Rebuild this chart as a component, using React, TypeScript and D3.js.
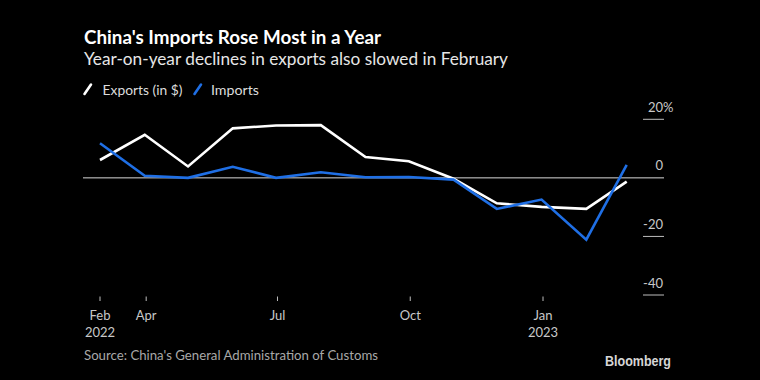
import React from "react";
import * as d3 from "d3";

// Data (monthly, YoY %)
const months = [
  "2022-02", "2022-03", "2022-04", "2022-05", "2022-06", "2022-07", "2022-08",
  "2022-09", "2022-10", "2022-11", "2022-12", "2023-01", "2023-02",
];
const exportsVals = [6.1, 14.7, 3.9, 16.9, 17.9, 18.0, 7.1, 5.7, -0.3, -8.7, -9.9, -10.6, -1.3];
const importsVals = [11.8, 0.7, 0.0, 3.8, 0.0, 1.9, 0.2, 0.3, -0.6, -10.6, -7.4, -21.1, 4.4];

const seriesNames = ["Exports (in $)", "Imports"];
const seriesColors = ["#ffffff", "#1f6fe5"];

const xTickDates = ["2022-02", "2022-04-01", "2022-07-01", "2022-10-01", "2023-01-01"];
const xTickLabels = [["Feb", "2022"], ["Apr"], ["Jul"], ["Oct"], ["Jan", "2023"]];

const yTicks = [20, 0, -20, -40];
const yTickLabels = ["20", "0", "-20", "-40"];

const title = "China's Imports Rose Most in a Year";
const subtitle = "Year-on-year declines in exports also slowed in February";
const source = "Source: China's General Administration of Customs";

const W = 760;
const H = 380;
const FONT = "Lato, 'Noto Sans', sans-serif";

// month-end position (data for a month plotted on its last day)
const parseMonth = d3.timeParse("%Y-%m");
const parseDay = d3.timeParse("%Y-%m-%d");
const monthEnd = (m: string) =>
  d3.timeDay.offset(d3.timeMonth.offset(parseMonth(m) as Date, 1), -1);

export default function App() {
  const dates = months.map(monthEnd);
  const x = d3
    .scaleTime()
    .domain([dates[0], dates[dates.length - 1]])
    .range([100, 626.7]);
  const y = d3.scaleLinear().domain([-40, 20]).range([295, 119.3]);

  const line = d3
    .line<number>()
    .x((_, i) => x(dates[i]))
    .y((v) => y(v))
    .curve(d3.curveLinear);

  const series = [exportsVals, importsVals];

  const tickX = xTickDates.map((s, i) =>
    i === 0 ? x(monthEnd(s)) : x(parseDay(s) as Date)
  );

  return (
    <svg
      width={W}
      height={H}
      style={{ position: "absolute", left: 0, top: 0, display: "block", background: "#000" }}
      fontFamily={FONT}
    >
      <rect x={0} y={0} width={W} height={H} fill="#000" />

      {/* Title */}
      <text x={84} y={43.5} fill="#fff" fontSize={19} fontWeight={700} textLength={297} lengthAdjust="spacingAndGlyphs">
        {title}
      </text>
      <text x={84} y={64.5} fill="#e6e6e6" fontSize={17.5} textLength={424} lengthAdjust="spacingAndGlyphs">
        {subtitle}
      </text>

      {/* Legend */}
      <line x1={84.5} y1={94} x2={91} y2={84.5} stroke={seriesColors[0]} strokeWidth={2.6} strokeLinecap="round" />
      <text x={102.5} y={95} fill="#dcdcdc" fontSize={14} textLength={80} lengthAdjust="spacingAndGlyphs">
        {seriesNames[0]}
      </text>
      <line x1={194.5} y1={94} x2={201} y2={84.5} stroke={seriesColors[1]} strokeWidth={2.6} strokeLinecap="round" />
      <text x={211} y={95} fill="#dcdcdc" fontSize={14} textLength={48} lengthAdjust="spacingAndGlyphs">
        {seriesNames[1]}
      </text>

      {/* Y axis */}
      {yTicks.map((t, i) => (
        <g key={t}>
          {t !== 0 && (
            <line x1={643} x2={664} y1={y(t)} y2={y(t)} stroke="#bdbdbd" strokeWidth={1} />
          )}
          <text x={663} y={y(t) - 7.5} fill="#c8c8c8" fontSize={13} textAnchor="end">
            {yTickLabels[i]}
          </text>
          {i === 0 && (
            <text x={663} y={y(t) - 7.5} fill="#c8c8c8" fontSize={13}>
              %
            </text>
          )}
        </g>
      ))}

      {/* zero line */}
      <line x1={83} x2={664} y1={y(0)} y2={y(0)} stroke="#d9d9d9" strokeWidth={1} />

      {/* X axis ticks */}
      {tickX.map((tx, i) => (
        <g key={i}>
          <line x1={tx} x2={tx} y1={296.5} y2={301} stroke="#bdbdbd" strokeWidth={1} />
          {xTickLabels[i].map((lab, j) => (
            <text key={j} x={tx} y={319.5 + j * 17} fill="#c8c8c8" fontSize={13} textAnchor="middle">
              {lab}
            </text>
          ))}
        </g>
      ))}

      {/* Lines */}
      {series.map((vals, si) => (
        <path
          key={si}
          d={line(vals) || ""}
          fill="none"
          stroke={seriesColors[si]}
          strokeWidth={2.6}
          strokeLinejoin="miter"
        />
      ))}

      {/* Footer */}
      <text x={84} y={359.5} fill="#a8a8a8" fontSize={13} textLength={294} lengthAdjust="spacingAndGlyphs">
        {source}
      </text>
      <text
        x={671}
        y={366}
        fill="#d6d6d6"
        fontSize={14}
        fontWeight={700}
        textAnchor="end"
        fontFamily="'Liberation Sans', Arial, sans-serif"
        textLength={66}
        lengthAdjust="spacingAndGlyphs"
      >
        Bloomberg
      </text>
    </svg>
  );
}
